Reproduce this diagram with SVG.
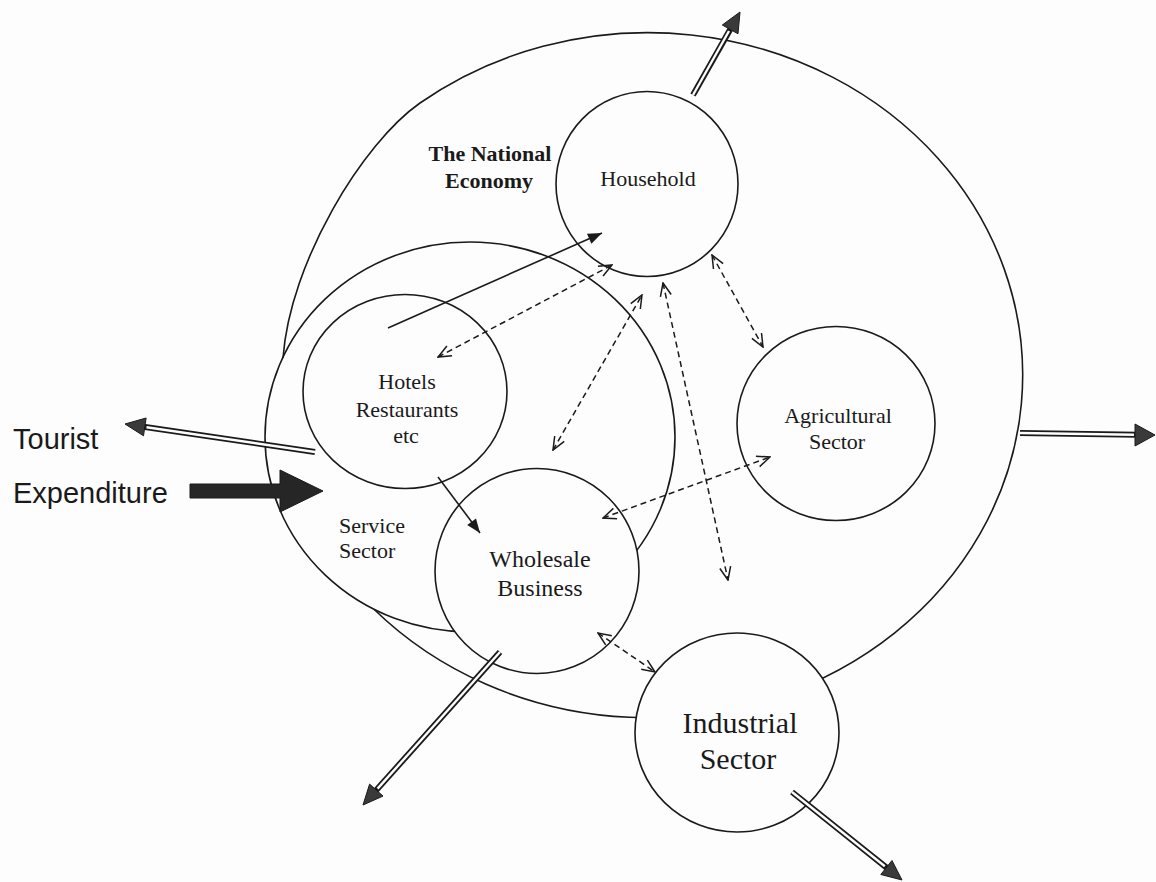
<svg xmlns="http://www.w3.org/2000/svg" width="1156" height="882" viewBox="0 0 1156 882">
<style>
.bg{fill:#fdfdfd}
.ring{fill:none;stroke:#1a1a1a;stroke-width:1.6}
.node{fill:#fdfdfd;stroke:#1a1a1a;stroke-width:1.6}
.lbl{font-family:"Liberation Serif","Times New Roman",serif;font-size:22px;fill:#1a1a1a;text-anchor:middle}
.big{font-size:30px}
.mid{font-size:24px}
.title{font-weight:bold}
.sans{font-family:"Liberation Sans",Arial,sans-serif;font-size:29px;fill:#1a1a1a}
.solid{stroke:#1a1a1a;stroke-width:1.6;fill:none;marker-end:url(#fill-head)}
.dash{stroke:#1a1a1a;stroke-width:1.5;fill:none;stroke-dasharray:6 4;marker-start:url(#open-head);marker-end:url(#open-head)}
.shaft-o{stroke:#1a1a1a;stroke-width:6;stroke-linecap:butt}
.shaft-i{stroke:#fdfdfd;stroke-width:2.4;stroke-linecap:butt}
.head{fill:#3a3a3a;stroke:#1a1a1a;stroke-width:1;stroke-linejoin:miter}
</style>
<defs>
<marker id="fill-head" markerUnits="userSpaceOnUse" viewBox="-16 -8 17 16" markerWidth="17" markerHeight="16" refX="0" refY="0" orient="auto-start-reverse">
<path d="M -14 -5.5 L 0 0 L -14 5.5 Z" fill="#1a1a1a"/>
</marker>
<marker id="open-head" markerUnits="userSpaceOnUse" viewBox="-16 -8 17 16" markerWidth="17" markerHeight="16" refX="0" refY="0" orient="auto-start-reverse">
<path d="M -13 -5.5 L 0 0 L -13 5.5" fill="none" stroke="#1a1a1a" stroke-width="1.5"/>
</marker>
</defs>
<rect class="bg" x="0" y="0" width="1156" height="882"/>

<g id="service-sector">
<ellipse class="ring" cx="470" cy="437" rx="205" ry="195"/>
<text class="lbl" style="text-anchor:start" x="339" y="533">Service</text>
<text class="lbl" style="text-anchor:start" x="339" y="558">Sector</text>
</g>

<g id="national-economy">
<path class="ring" d="M 283 358 C 290 262 362.6 143.1 420 103 A 375 342.5 0 1 1 374 609.3"/>
<text class="lbl title" x="490" y="161">The National</text>
<text class="lbl title" x="489" y="188">Economy</text>
</g>

<g id="household">
<ellipse class="node" cx="647" cy="184" rx="91" ry="92.5"/>
<text class="lbl" x="648" y="186">Household</text>
</g>

<g id="hotels">
<ellipse class="node" cx="405" cy="391.5" rx="102" ry="97"/>
<text class="lbl" x="407" y="389">Hotels</text>
<text class="lbl" x="407" y="417">Restaurants</text>
<text class="lbl" x="406" y="443">etc</text>
</g>

<g id="wholesale">
<ellipse class="node" cx="537" cy="571" rx="102" ry="102.5"/>
<text class="lbl mid" x="540" y="567">Wholesale</text>
<text class="lbl mid" x="540" y="596">Business</text>
</g>

<g id="agricultural">
<ellipse class="node" cx="836" cy="423.5" rx="99" ry="97"/>
<text class="lbl" x="838" y="423">Agricultural</text>
<text class="lbl" x="837" y="449">Sector</text>
</g>

<g id="industrial">
<ellipse class="node" cx="737" cy="732.5" rx="102" ry="99.5"/>
<text class="lbl big" x="740" y="733">Industrial</text>
<text class="lbl big" x="738" y="769">Sector</text>
</g>

<g id="tourist-expenditure">
<text class="sans" x="13" y="449">Tourist</text>
<text class="sans" x="13" y="503">Expenditure</text>
</g>

<g id="connectors">
<line class="solid" x1="388" y1="328" x2="602" y2="233"/>
<line class="solid" x1="438" y1="477" x2="480" y2="533"/>

<line class="dash" x1="438" y1="357" x2="612" y2="265"/>
<line class="dash" x1="553" y1="450" x2="642" y2="295"/>
<line class="dash" x1="663" y1="283" x2="728" y2="580"/>
<line class="dash" x1="712" y1="255" x2="763" y2="347"/>
<line class="dash" x1="603" y1="518" x2="770" y2="457"/>
<line class="dash" x1="598" y1="633" x2="655" y2="672"/>

<line class="shaft-o" x1="693" y1="95" x2="731" y2="28"/>
<line class="shaft-i" x1="693" y1="95" x2="729" y2="31"/>
<polygon class="head" points="740,12 738,33.8 722.3,25"/>

<line class="shaft-o" x1="1020" y1="433" x2="1137" y2="434.7"/>
<line class="shaft-i" x1="1020" y1="433" x2="1134" y2="434.7"/>
<polygon class="head" points="1155,435 1135,424 1135,446"/>

<line class="shaft-o" x1="315" y1="452" x2="143.5" y2="426.7"/>
<line class="shaft-i" x1="315" y1="452" x2="146.5" y2="427.2"/>
<polygon class="head" points="125,424 146.1,418 143.5,435.8"/>

<line class="shaft-o" x1="500" y1="652" x2="375.5" y2="791"/>
<line class="shaft-i" x1="500" y1="652" x2="377.6" y2="788.6"/>
<polygon class="head" points="363,805 383,796.1 369.6,784.1"/>

<line class="shaft-o" x1="792" y1="792" x2="887.2" y2="868.1"/>
<line class="shaft-i" x1="792" y1="792" x2="884.8" y2="866.2"/>
<polygon class="head" points="902,880 880.8,874.5 892,860.5"/>

<polygon points="190,484 280,484 280,470 323,491 280,512 280,498 190,498" fill="#262626" stroke="#1a1a1a" stroke-width="1"/>
</g>
</svg>
